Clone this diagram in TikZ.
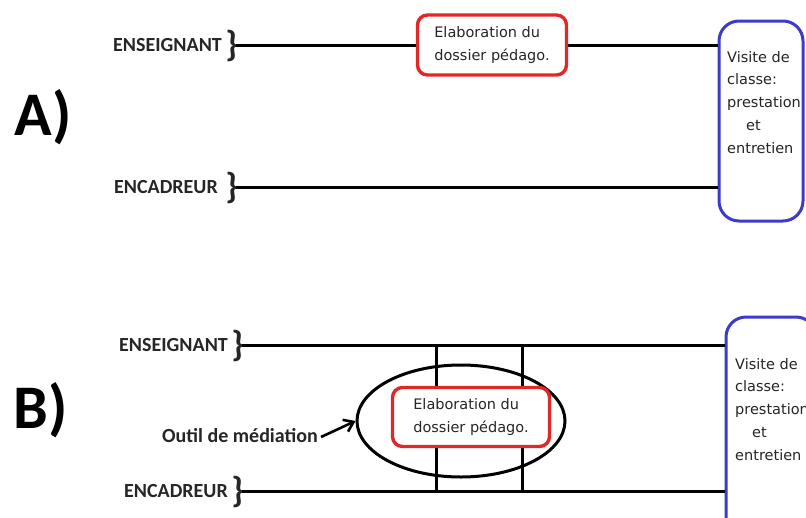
\documentclass[tikz,border=0pt]{standalone}
\usepackage{fontspec}
\setmainfont{Carlito}
\newfontfamily\boxfont{DejaVu Sans}
\usetikzlibrary{arrows.meta,shapes.geometric}
\definecolor{redbox}{HTML}{E02828}
\definecolor{bluebox}{HTML}{3C3CC8}
\definecolor{txt}{HTML}{262626}
\begin{document}
\begin{tikzpicture}[x=1pt,y=-1pt,
  lbl/.style={font=\fontsize{20}{22}\selectfont\bfseries, text=txt, inner sep=0pt},
  brc/.style={font=\fontsize{36}{36}\selectfont\bfseries, text=txt, inner sep=0pt},
  big/.style={font=\fontsize{62}{62}\selectfont\bfseries, text=black, inner sep=0pt},
  line/.style={line width=3pt, black},
  redbx/.style={draw=redbox, line width=3.4pt, rounded corners=10pt, fill=white, align=left,
    font=\boxfont\fontsize{14.5}{22.5}\selectfont, text=txt},
  bluebx/.style={draw=bluebox, line width=3pt, rounded corners=20pt},
  vtxt/.style={font=\boxfont\fontsize{14.5}{22.7}\selectfont, text=txt, align=left, anchor=north west, inner sep=0pt}]
\useasboundingbox (0,0) rectangle (806,517);
\fill[white] (0,0) rectangle (806,517);

% ---------- A ----------
\node[big] (A) at (43,117) {A)};
\node[lbl, anchor=east] (ensA) at (222,45) {ENSEIGNANT};
\node[brc, anchor=east] (bA1) at (238,46) {\}};
\node[lbl, anchor=east] (encA) at (218,187) {ENCADREUR};
\node[brc, anchor=east] (bA2) at (238,188) {\}};
\node[bluebx, minimum width=84pt, minimum height=200pt] (visA) at (761,121) {};
\node[vtxt] (tA) at (727,51) {Visite de\\classe:\\prestation\\\hspace*{19pt}et\\entretien};
\node[redbx, minimum width=149pt, minimum height=60pt] (elabA) at (492,45) {Elaboration du\\dossier pédago.};
\draw[line] (bA1.east) ++(-2,-1) -- (elabA.west);
\draw[line] (elabA.east) -- (visA.west |- elabA.east);
\draw[line] (bA2.east) ++(-2,-1) -- (visA.west |- encA.east);

% ---------- B ----------
\node[big] (B) at (41,410) {B)};
\node[lbl, anchor=east] (ensB) at (228,345) {ENSEIGNANT};
\node[brc, anchor=east] (bB1) at (244,346) {\}};
\node[lbl, anchor=east] (encB) at (228,491) {ENCADREUR};
\node[brc, anchor=east] (bB2) at (244,492) {\}};
\node[bluebx, minimum width=90pt, minimum height=220pt] (visB) at (771,427) {};
\node[vtxt] (tB) at (735,358) {Visite de\\classe:\\prestation\\\hspace*{17pt}et\\entretien};
\draw[line] (bB1.east) ++(-2,-1) -- (visB.west |- ensB.east);
\draw[line] (bB2.east) ++(-2,-1) -- (visB.west |- encB.east);
\coordinate (v1t) at (436,345);
\coordinate (v1b) at (436,491);
\coordinate (v2t) at (522,345);
\coordinate (v2b) at (522,491);
\draw[line] (v1t) -- (v1b);
\draw[line] (v2t) -- (v2b);
\node[draw, ellipse, line width=3pt, minimum width=208pt, minimum height=112pt] (ell) at (461,421) {};
\node[redbx, minimum width=157pt, minimum height=59pt] (elabB) at (471,417) {Elaboration du\\dossier pédago.};
\node[lbl, anchor=east] (outil) at (318,436) {Outil de médiation};
\draw[line, line width=2.6pt, -{Straight Barb[length=9pt,width=13pt,line width=2.6pt]}] (outil.east) ++(3,1) -- (ell.west);
\end{tikzpicture}
\end{document}
